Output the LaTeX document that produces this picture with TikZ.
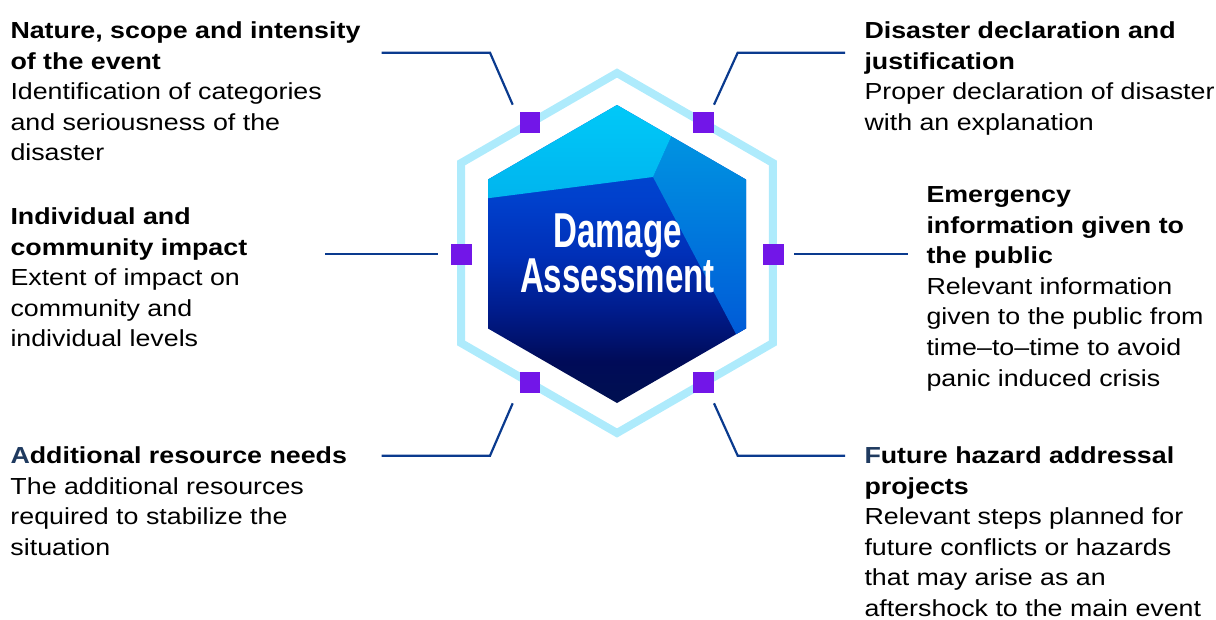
\documentclass[tikz,border=0pt]{standalone}
\usepackage{fontspec}
\setmainfont{Liberation Sans}[FakeStretch=1.155]
\newfontfamily\titlefont{Liberation Sans}[FakeStretch=0.675]
\definecolor{ringblue}{HTML}{AEEBFC}
\definecolor{linkblue}{HTML}{0A3A8E}
\definecolor{markpurple}{HTML}{7216E8}
\definecolor{initialnavy}{HTML}{1F3A5F}
\definecolor{rfTop}{HTML}{0098E2}
\definecolor{rfBot}{HTML}{0052D6}
\definecolor{cfTop}{HTML}{00CBF9}
\definecolor{cfBot}{HTML}{00B4EE}
\definecolor{mA}{HTML}{0050D8}
\definecolor{mB}{HTML}{0040CC}
\definecolor{mC}{HTML}{0030B8}
\definecolor{mD}{HTML}{001C8C}
\definecolor{mE}{HTML}{000B58}
\definecolor{mF}{HTML}{001050}
% vertical shading for the main face of the hexagon (25bp = bottom, 75bp = top)
\pgfdeclareverticalshading{hexmain}{100bp}{color(0bp)=(mF); color(25bp)=(mF);
  color(32bp)=(mE); color(40.6bp)=(mD); color(50bp)=(mC); color(59bp)=(mB);
  color(75bp)=(mA); color(100bp)=(mA)}
\begin{document}
\begin{tikzpicture}[x=1pt,y=-1pt,
  link/.style={draw=linkblue,line width=2.2pt,line join=miter},
  marker/.style={fill=markpurple,minimum size=20.7pt,inner sep=0pt,outer sep=0pt},
  % blocks are placed by the baseline of their last line
  label/.style={anchor=base west,inner sep=0pt,outer sep=0pt,align=left,
    font=\fontsize{23.2}{30.6}\selectfont},
  title/.style={text=white,inner sep=0pt,align=center,
    font=\titlefont\bfseries\fontsize{49}{45}\selectfont}]
\useasboundingbox (0,0) rectangle (1216,619);

% outer ring
\draw[ringblue,line width=8pt,line join=miter]
  (617,73) -- (772.9,163) -- (772.9,343) -- (617,433) -- (461.1,343) -- (461.1,163) -- cycle;

% inner hexagon with its three faces
\begin{scope}
  \clip (617,105) -- (746,179.5) -- (746,328.5) -- (617,403) -- (488,328.5) -- (488,179.5) -- cycle;
  \shade[shading=hexmain] (617,105) -- (746,179.5) -- (746,328.5) -- (617,403) -- (488,328.5) -- (488,179.5) -- cycle;
  \shade[top color=rfTop,bottom color=rfBot]
    (653,177) -- (675.5,127) -- (760,120) -- (760,365) -- (748.5,357.6) -- cycle;
  \shade[top color=cfTop,bottom color=cfBot]
    (478,199.5) -- (653,177) -- (675.5,127) -- (617,95) -- (478,95) -- cycle;
\end{scope}

\node[title] (title) at (617.5,253) {Damage\\Assessment};

% markers on the ring
\node[marker] (mUL) at (530,122.2) {};
\node[marker] (mUR) at (703.7,122.2) {};
\node[marker] (mL) at (461.5,254.3) {};
\node[marker] (mR) at (773.7,254.3) {};
\node[marker] (mLL) at (530,382.3) {};
\node[marker] (mLR) at (703.7,382.3) {};

% connector points
\coordinate (ulA) at (381.7,52.7); \coordinate (ulB) at (490,52.7); \coordinate (ulC) at (512.7,104.7);
\coordinate (urA) at (845,52.7); \coordinate (urB) at (737.7,52.7); \coordinate (urC) at (714,104.7);
\coordinate (lA) at (325,254); \coordinate (lB) at (438.3,254);
\coordinate (rA) at (907.7,254); \coordinate (rB) at (794.3,254);
\coordinate (llA) at (381.7,455.7); \coordinate (llB) at (490,455.7); \coordinate (llC) at (512.7,403.3);
\coordinate (lrA) at (845,455.7); \coordinate (lrB) at (737.7,455.7); \coordinate (lrC) at (714,403.3);

\draw[link] (ulA) -- (ulB) -- (ulC);
\draw[link] (urA) -- (urB) -- (urC);
\draw[link] (lA) -- (lB);
\draw[link] (rA) -- (rB);
\draw[link] (llA) -- (llB) -- (llC);
\draw[link] (lrA) -- (lrB) -- (lrC);

% text blocks
\node[label] (tNature) at (10.5,160.9) {\textbf{Nature, scope and intensity}\\\textbf{of the event}\\Identification of categories\\and seriousness of the\\disaster};
\node[label] (tDecl) at (864.5,130.3) {\textbf{Disaster declaration and}\\\textbf{justification}\\Proper declaration of disaster\\with an explanation};
\node[label] (tImpact) at (10.5,346.9) {\textbf{Individual and}\\\textbf{community impact}\\Extent of impact on\\community and\\individual levels};
\node[label] (tInfo) at (926.5,386.1) {\textbf{Emergency}\\\textbf{information given to}\\\textbf{the public}\\Relevant information\\given to the public from\\time–to–time to avoid\\panic induced crisis};
\node[label] (tRes) at (10.5,555.3) {\textbf{\textcolor{initialnavy}{A}dditional resource needs}\\The additional resources\\required to stabilize the\\situation};
\node[label] (tFut) at (864.5,616.5) {\textbf{\textcolor{initialnavy}{F}uture hazard addressal}\\\textbf{projects}\\Relevant steps planned for\\future conflicts or hazards\\that may arise as an\\aftershock to the main event};
\end{tikzpicture}
\end{document}
